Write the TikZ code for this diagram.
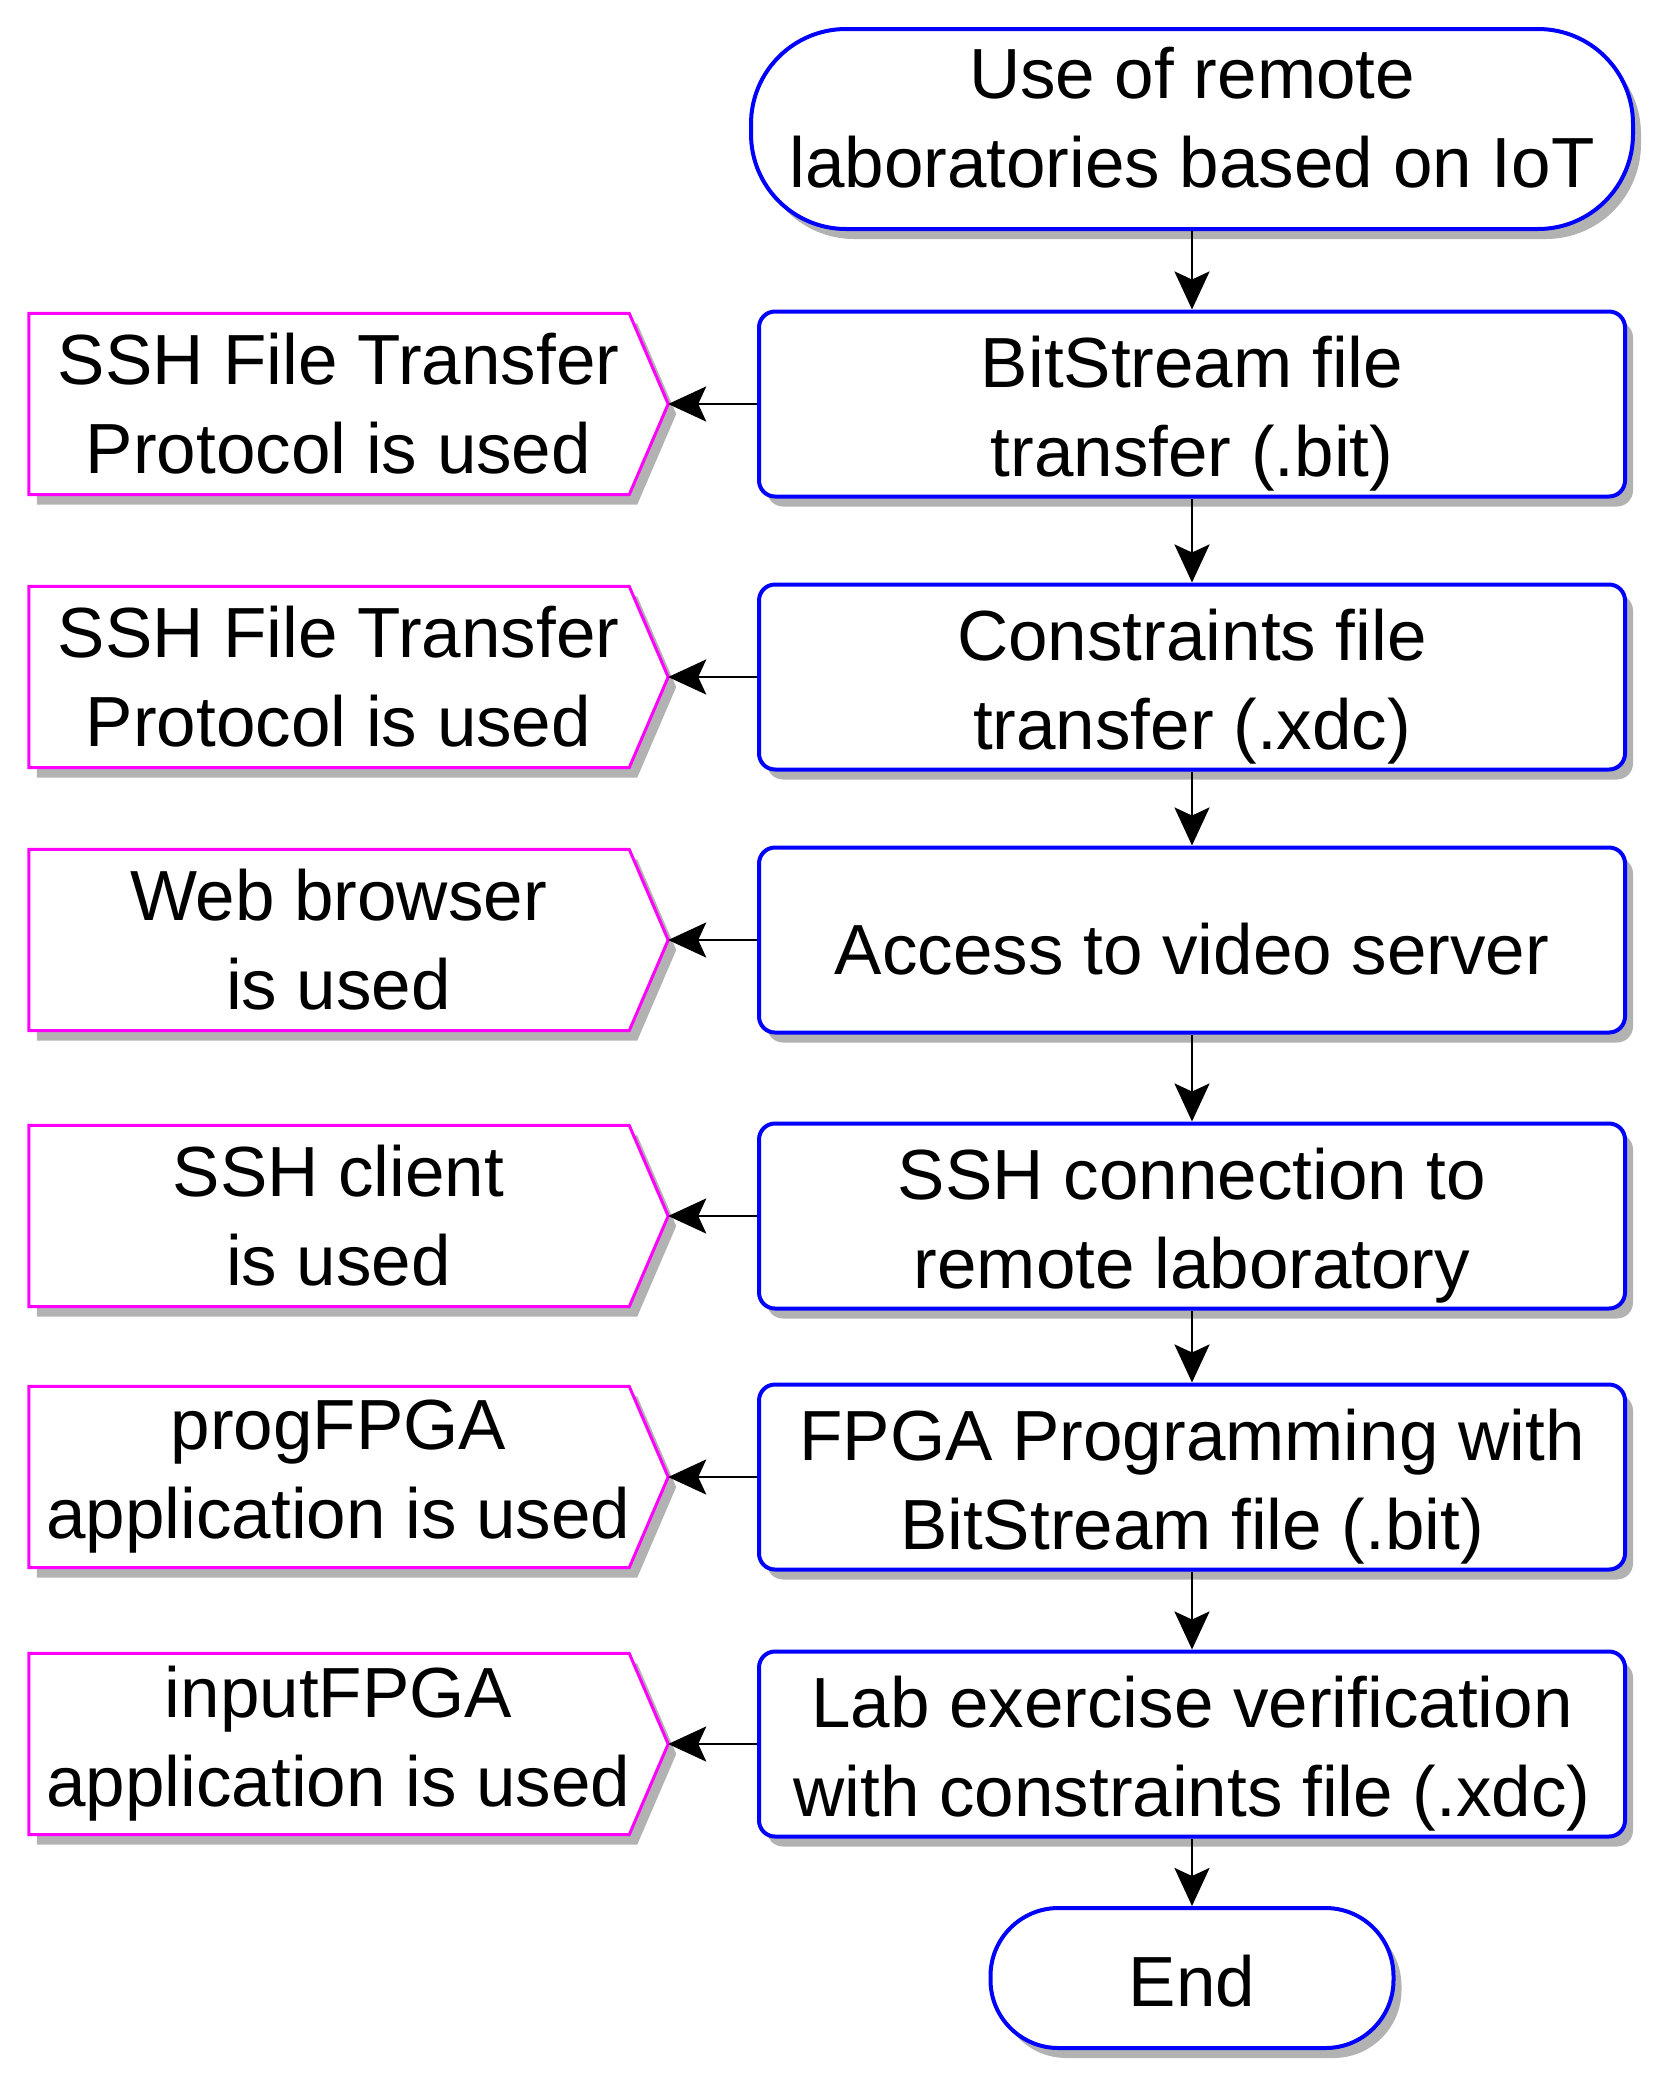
\documentclass[tikz,border=0pt]{standalone}
\usepackage{fontspec}
\setmainfont{Liberation Sans}
\usetikzlibrary{shadows,arrows.meta,calc,backgrounds}
\definecolor{bblue}{RGB}{0,0,255}
\definecolor{mmag}{RGB}{255,0,255}
\begin{document}
\begin{tikzpicture}[x=1pt,y=-1pt,
  every node/.style={font=\fontsize{71}{89}\selectfont, align=center, inner sep=0pt},
  shadowed/.style={drop shadow={shadow xshift=8pt,shadow yshift=-10pt,opacity=0.3,fill=black}},
  procbox/.style={draw=bblue, line width=4pt, fill=white, rounded corners=16pt, minimum width=866pt, minimum height=185pt, shadowed},
  twoline/.style={text height=160pt},
  oneline/.style={text height=70pt},
  termbox/.style={draw=bblue, line width=4pt, fill=white, rounded corners=95pt, minimum width=882pt, minimum height=200pt, shadowed},
  lbox/.style={minimum width=619pt, minimum height=181pt},
  lshape/.style={draw=mmag, line width=3pt, fill=white, shadowed},
  arr/.style={-{Stealth[length=38pt,width=35pt,inset=8pt]}, line width=2.8pt, black}
]
\path[use as bounding box] (0,0) rectangle (1665,2085);

\node[termbox, text height=118pt] (start) at (1192,129) {Use of remote\\laboratories based on IoT};
\node[procbox, twoline] (p1) at (1192,404) {BitStream file\\transfer (.bit)};
\node[procbox, twoline] (p2) at (1192,677) {Constraints file\\transfer (.xdc)};
\node[procbox, oneline] (p3) at (1192,940) {Access to video server};
\node[procbox, twoline] (p4) at (1192,1216) {SSH connection to\\remote laboratory};
\node[procbox, twoline] (p5) at (1192,1477) {FPGA Programming with\\BitStream file (.bit)};
\node[procbox, twoline] (p6) at (1192,1744) {Lab exercise verification\\with constraints file (.xdc)};
\node[termbox, minimum width=403pt, minimum height=140pt, rounded corners=68pt, text height=58pt] (end) at (1192,1978) {End};

\node[lbox] (l1) at (338.5,404) {SSH File Transfer\\Protocol is used};
\node[lbox] (l2) at (338.5,677) {SSH File Transfer\\Protocol is used};
\node[lbox] (l3) at (338.5,940) {Web browser\\is used};
\node[lbox] (l4) at (338.5,1216) {SSH client\\is used};
\node[lbox] (l5) at (338.5,1477) {progFPGA\\application is used};
\node[lbox] (l6) at (338.5,1744) {inputFPGA\\application is used};

\coordinate (t1) at ($(l1.east)+(20pt,0)$);
\coordinate (t2) at ($(l2.east)+(20pt,0)$);
\coordinate (t3) at ($(l3.east)+(20pt,0)$);
\coordinate (t4) at ($(l4.east)+(20pt,0)$);
\coordinate (t5) at ($(l5.east)+(20pt,0)$);
\coordinate (t6) at ($(l6.east)+(20pt,0)$);

\begin{pgfonlayer}{background}
\foreach \n/\t in {l1/t1,l2/t2,l3/t3,l4/t4,l5/t5,l6/t6}{
  \path[lshape] (\n.north west) -- ($(\n.north east)+(-19pt,0)$) -- (\t)
    -- ($(\n.south east)+(-19pt,0)$) -- (\n.south west) -- cycle;
}
\end{pgfonlayer}

\draw[arr] (start.south) -- (p1.north);
\draw[arr] (p1.south) -- (p2.north);
\draw[arr] (p2.south) -- (p3.north);
\draw[arr] (p3.south) -- (p4.north);
\draw[arr] (p4.south) -- (p5.north);
\draw[arr] (p5.south) -- (p6.north);
\draw[arr] (p6.south) -- (end.north);

\draw[arr] (p1.west) -- (t1);
\draw[arr] (p2.west) -- (t2);
\draw[arr] (p3.west) -- (t3);
\draw[arr] (p4.west) -- (t4);
\draw[arr] (p5.west) -- (t5);
\draw[arr] (p6.west) -- (t6);
\end{tikzpicture}
\end{document}
